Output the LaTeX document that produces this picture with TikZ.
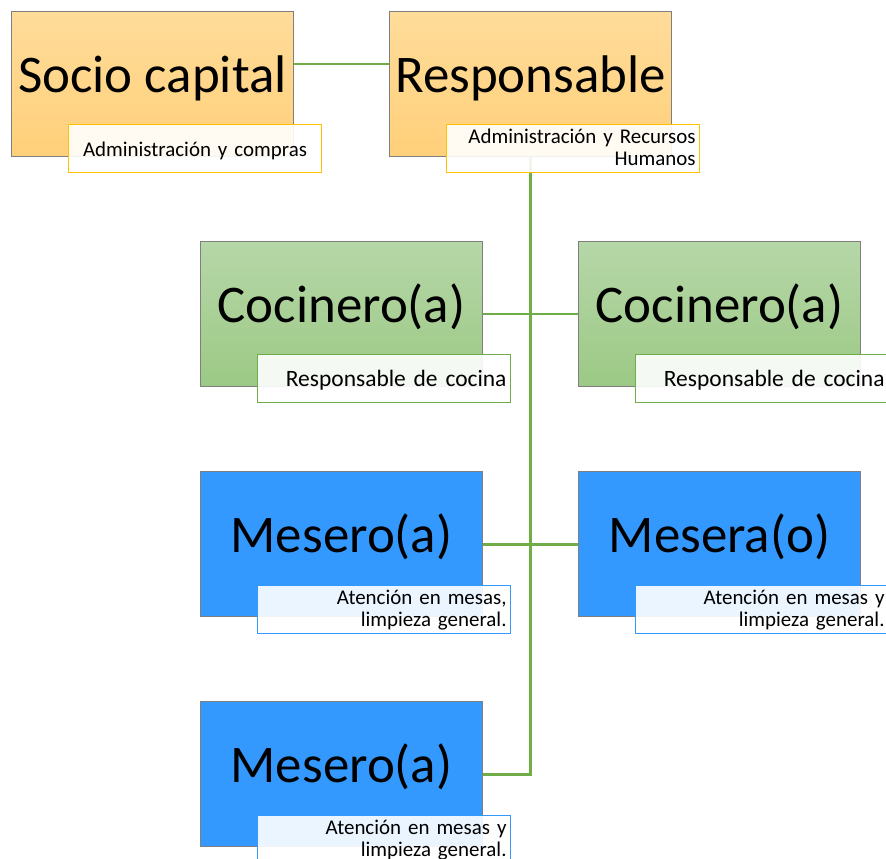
\documentclass[tikz,border=0pt]{standalone}
\usepackage{fontspec}
\setmainfont{Carlito}
\usetikzlibrary{backgrounds}
\definecolor{orTop}{HTML}{FFDC9A}
\definecolor{orBot}{HTML}{FFD07A}
\definecolor{grTop}{HTML}{B6D7A8}
\definecolor{grBot}{HTML}{9CC985}
\definecolor{blFill}{HTML}{3399FF}
\definecolor{edgeGray}{HTML}{7F7F7F}
\definecolor{lnGreen}{HTML}{70AD47}
\definecolor{lbOr}{HTML}{FFC000}
\definecolor{lbGr}{HTML}{70AD47}
\definecolor{lbBl}{HTML}{3399FF}
\tikzset{
  rolebox/.style={draw=edgeGray, line width=0.8pt, anchor=north west, inner sep=0pt,
    minimum width=211.5pt, minimum height=108.75pt,
    font=\fontsize{39.7}{40}\selectfont, text height=24pt, text depth=12pt},
  orbox/.style={rolebox, top color=orTop, bottom color=orBot},
  grbox/.style={rolebox, top color=grTop, bottom color=grBot},
  blbox/.style={rolebox, fill=blFill},
  lblbox/.style={anchor=north west, inner ysep=0pt, inner xsep=3pt, line width=0.8pt,
    minimum width=189.75pt, minimum height=36pt, text width=183.75pt,
    fill=white, fill opacity=0.9, text opacity=1,
    font=\fontsize{15.7}{16.5}\selectfont},
  lbl1/.style={lblbox, text height=12pt, text depth=0pt},
  lbl2/.style={lblbox, text height=8pt, text depth=15.5pt},
  bigl/.style={font=\fontsize{17.6}{18}\selectfont},
  conn/.style={draw=lnGreen, line width=2.2pt},
  connthin/.style={draw=lnGreen, line width=1.1pt}
}
\begin{document}
\begin{tikzpicture}[x=0.75pt,y=-0.75pt]
\useasboundingbox (0,0) rectangle (886,859);
% boxes
\node[orbox] (soc) at (11,11) {Socio capital};
\node[orbox] (resp) at (389,11) {Responsable};
\node[grbox] (coc1) at (200,241) {Cocinero(a)};
\node[grbox] (coc2) at (578,241) {Cocinero(a)};
\node[blbox] (mes1) at (200,471) {Mesero(a)};
\node[blbox] (mes2) at (578,471) {Mesera(o)};
\node[blbox] (mes3) at (200,701) {Mesero(a)};
% labels
\node[lbl1, draw=lbOr, align=center] (socL) at (68,124) {Administración y compras};
\node[lbl2, draw=lbOr, align=right] (respL) at (446,124) {Administración y Recursos\\Humanos};
\node[lbl1, bigl, draw=lbGr, align=right] (coc1L) at (257,354) {Responsable de cocina};
\node[lbl1, bigl, draw=lbGr, align=right] (coc2L) at (635,354) {Responsable de cocina};
\node[lbl2, draw=lbBl, align=right] (mes1L) at (257,585) {Atención en mesas,\\limpieza general.};
\node[lbl2, draw=lbBl, align=right] (mes2L) at (635,585) {Atención en mesas y\\limpieza general.};
\node[lbl2, draw=lbBl, align=right] (mes3L) at (257,815) {Atención en mesas y\\limpieza general.};
% connectors
\begin{scope}[on background layer]
\draw[connthin] ([yshift=-39.75pt]soc.north east) -- ([yshift=-39.75pt]resp.north west);
\draw[conn] (resp.south) -- (resp.south |- mes3.east) -- (mes3.east);
\draw[conn] (coc1.east) -- (coc2.west);
\draw[conn] (mes1.east) -- (mes2.west);
\end{scope}
\end{tikzpicture}
\end{document}
